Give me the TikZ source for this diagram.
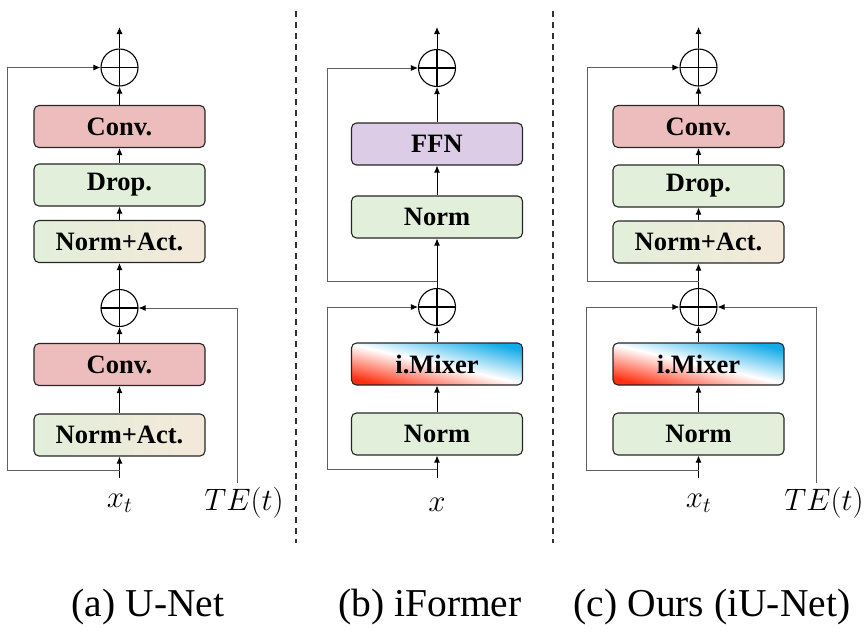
\documentclass[tikz,border=0pt]{standalone}
\usepackage{fix-cm}
\usepackage{fontspec}
\setmainfont{Liberation Serif}
\usetikzlibrary{arrows.meta}
\definecolor{convc}{RGB}{237,189,189}
\definecolor{greenc}{RGB}{226,239,218}
\definecolor{beigec}{RGB}{244,232,218}
\definecolor{ffnc}{RGB}{220,204,230}
\definecolor{mixblue}{RGB}{20,172,232}
\definecolor{mixred}{RGB}{255,48,18}
\definecolor{skipc}{RGB}{95,95,95}
\begin{document}
\begin{tikzpicture}[x=1pt,y=-1pt,
  blk/.style={draw=black!85, line width=1.1pt, rounded corners=5pt, minimum width=171pt, minimum height=42pt, inner sep=0pt, font=\bfseries\fontsize{26.5}{28}\selectfont},
  convbox/.style={blk, fill=convc},
  greenbox/.style={blk, fill=greenc},
  nabox/.style={blk, left color=greenc, right color=beigec},
  ffnbox/.style={blk, fill=ffnc},
  mixbox/.style={blk, top color=mixblue, bottom color=mixred, middle color=white, shading angle=-13},
  sum/.style={circle, draw=black, line width=1.1pt, minimum size=37pt, inner sep=0pt,
    path picture={\draw[line width=1.1pt] (path picture bounding box.north) -- (path picture bounding box.south) (path picture bounding box.west) -- (path picture bounding box.east);}},
  arr/.style={-{Latex[length=7pt,width=6pt]}, line width=0.9pt, draw=black},
  skip/.style={-{Latex[length=7pt,width=6pt,color=black]}, line width=0.9pt, draw=skipc},
  lbl/.style={font=\fontsize{31}{33}\selectfont, inner sep=0pt},
  captxt/.style={font=\fontsize{39.5}{42}\selectfont, inner sep=0pt},
  sepline/.style={draw=black!80, line width=1.6pt, dash pattern=on 6pt off 5pt}
]
\useasboundingbox (0,0) rectangle (868,633);

% ---------------- (a) U-Net ----------------
\node[sum] (asum1) at (119.5,67.5) {};
\node[convbox] (aconv1) at (119.5,126.5) {Conv.};
\node[greenbox] (adrop) at (119.5,185) {Drop.};
\node[nabox] (ana1) at (119.5,241.5) {Norm+Act.};
\node[sum] (asum2) at (119.5,308) {};
\node[convbox] (aconv2) at (119.5,364.5) {Conv.};
\node[nabox] (ana2) at (119.5,435) {Norm+Act.};
\coordinate (ain) at (119.5,478);
\coordinate (abr) at (119.5,470);
\coordinate (ask) at (7,470);
\coordinate (atop) at (119.5,27);
\coordinate (ate) at (237,483);
\node[lbl] (axt) at (119.5,503) {$x_t$};
\node[lbl] (atel) at (244,503) {$TE(t)$};

\draw[arr] (ain) -- (ana2);
\draw[arr] (ana2) -- (aconv2);
\draw[arr] (aconv2) -- (asum2);
\draw[arr] (asum2) -- (ana1);
\draw[arr] (ana1) -- (adrop);
\draw[arr] (adrop) -- (aconv1);
\draw[arr] (aconv1) -- (asum1);
\draw[arr] (asum1) -- (atop);
\draw[skip] (abr) -- (ask) |- (asum1.west);
\draw[skip] (ate) |- (asum2.east);

% ---------------- (b) iFormer ----------------
\node[sum] (bsum1) at (437,68) {};
\node[ffnbox] (bffn) at (437,144) {FFN};
\node[greenbox] (bnorm1) at (437,217) {Norm};
\node[sum] (bsum2) at (437,307) {};
\node[mixbox] (bmix) at (437,364) {i.Mixer};
\node[greenbox] (bnorm2) at (437,434) {Norm};
\coordinate (bin) at (437,478);
\coordinate (bbr) at (437,469);
\coordinate (bsk) at (327,469);
\coordinate (bbr2) at (437,281);
\coordinate (bsk2) at (327,281);
\coordinate (btop) at (437,27);
\node[lbl] (bx) at (437,505) {$x$};

\draw[arr] (bin) -- (bnorm2);
\draw[arr] (bnorm2) -- (bmix);
\draw[arr] (bmix) -- (bsum2);
\draw[arr] (bsum2) -- (bnorm1);
\draw[arr] (bnorm1) -- (bffn);
\draw[arr] (bffn) -- (bsum1);
\draw[arr] (bsum1) -- (btop);
\draw[skip] (bbr) -- (bsk) |- (bsum2.west);
\draw[skip] (bbr2) -- (bsk2) |- (bsum1.west);

% ---------------- (c) Ours ----------------
\node[sum] (csum1) at (698.5,67.5) {};
\node[convbox] (cconv) at (698.5,126.5) {Conv.};
\node[greenbox] (cdrop) at (698.5,186) {Drop.};
\node[nabox] (cna) at (698.5,242) {Norm+Act.};
\node[sum] (csum2) at (698.5,307) {};
\node[mixbox] (cmix) at (698.5,364) {i.Mixer};
\node[greenbox] (cnorm) at (698.5,434) {Norm};
\coordinate (cin) at (698.5,478);
\coordinate (cbr) at (698.5,470);
\coordinate (csk) at (586,470);
\coordinate (cbr2) at (698.5,281);
\coordinate (csk2) at (587,281);
\coordinate (ctop) at (698.5,27);
\coordinate (cte) at (816,483);
\node[lbl] (cxt) at (698.5,503) {$x_t$};
\node[lbl] (ctel) at (824,503) {$TE(t)$};

\draw[arr] (cin) -- (cnorm);
\draw[arr] (cnorm) -- (cmix);
\draw[arr] (cmix) -- (csum2);
\draw[arr] (csum2) -- (cna);
\draw[arr] (cna) -- (cdrop);
\draw[arr] (cdrop) -- (cconv);
\draw[arr] (cconv) -- (csum1);
\draw[arr] (csum1) -- (ctop);
\draw[skip] (cbr) -- (csk) |- (csum2.west);
\draw[skip] (cte) |- (csum2.east);
\draw[skip] (cbr2) -- (csk2) |- (csum1.west);

% ---------------- separators ----------------
\coordinate (s1t) at (296,11);
\coordinate (s1b) at (296,543);
\coordinate (s2t) at (553,11);
\coordinate (s2b) at (553,543);
\draw[sepline] (s1t) -- (s1b);
\draw[sepline] (s2t) -- (s2b);

% ---------------- captions ----------------
\node[captxt] (capa) at (148,607) {(a) U-Net};
\node[captxt] (capb) at (430,607) {(b) iFormer};
\node[captxt] (capc) at (712,607) {(c) Ours (iU-Net)};
\end{tikzpicture}
\end{document}
